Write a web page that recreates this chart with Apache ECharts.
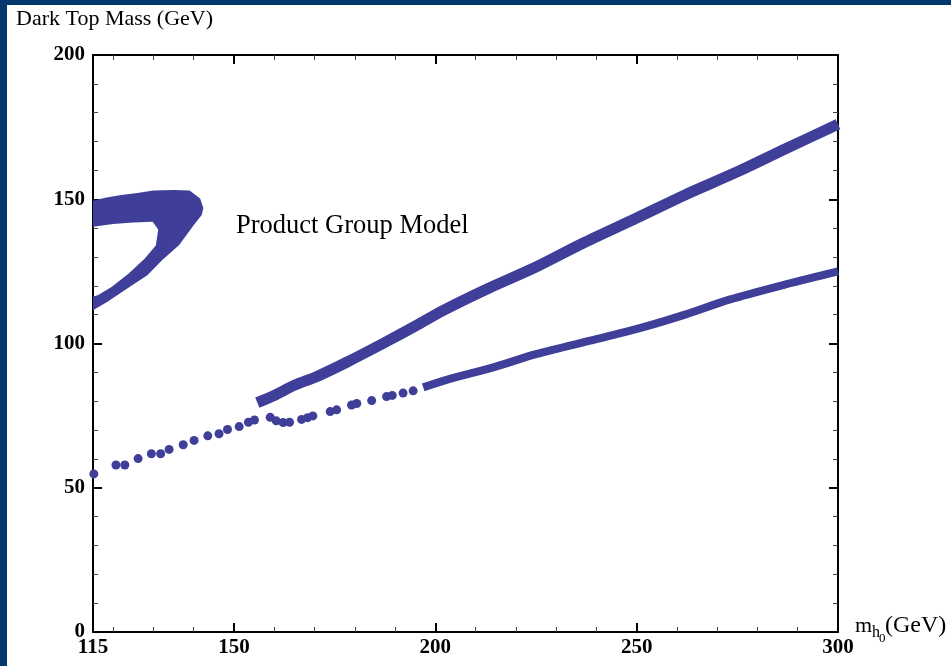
<!DOCTYPE html>
<html>
<head>
<meta charset="utf-8">
<title>Dark Top Mass</title>
<script src="https://cdn.jsdelivr.net/npm/echarts@6/dist/echarts.min.js"></script>
<style>
  html, body { margin: 0; padding: 0; background: #04376b; overflow: hidden; }
  .panel { position: absolute; left: 7px; top: 5px; right: 0; bottom: 0; background: #fff; }
  #chart { position: absolute; left: 0; top: 0; width: 951px; height: 666px; }
</style>
</head>
<body>
<div class="panel"></div>
<div id="chart"></div>
<script>
// tick values
const xLabels = [115, 150, 200, 250, 300];
const xMajor = [150, 200, 250, 300];
const xMinor = [120, 130, 140, 160, 170, 180, 190, 210, 220, 230, 240, 260, 270, 280, 290];

// upper branch (solid band)
const upperX = [155.8, 160, 165, 170.5, 178, 187, 195, 202, 213, 225, 237, 250, 262, 275, 287, 300];
const upperY = [79.5, 82, 85.5, 88.5, 93.5, 100, 106, 111.5, 119, 126.5, 135, 143.5, 151.5, 159.5, 167.5, 176];

// lower branch, continuous part
const lowerX = [197, 203, 215, 225, 240, 251, 262, 273, 287, 300];
const lowerY = [84.8, 87.5, 92, 96.3, 101.5, 105.4, 110, 115.2, 120.5, 125];

// lower branch, dotted part
const dotX = [115.2, 120.7, 122.9, 126.2, 129.5, 131.8, 133.9, 137.4, 140.1, 143.5, 146.3, 148.4, 151.3, 153.6, 155.1,
  159.0, 160.5, 162.2, 163.8, 166.8, 168.3, 169.6, 173.9, 175.5, 179.2, 180.5, 184.2, 187.9, 189.3, 192, 194.5];
const dotY = [54.8, 57.9, 57.9, 60.1, 61.8, 61.8, 63.3, 64.9, 66.4, 68.0, 68.7, 70.2, 71.2, 72.7, 73.5,
  74.4, 73.2, 72.6, 72.7, 73.7, 74.3, 74.9, 76.4, 77.0, 78.7, 79.2, 80.2, 81.6, 82.0, 82.8, 83.6];

// region near the left edge (outline)
const blobX = [115, 118, 122, 126, 130, 135, 139, 141.6, 142.4, 142, 140, 136.4, 132.2, 128.5, 123.5, 118.6, 115,
  115, 116.3, 119.6, 123.8, 127.8, 130.6, 131.2, 129.8, 125, 120, 115];
const blobY = [149.5, 150.5, 151.5, 152.2, 153, 153.2, 153, 150.3, 147, 144.5, 141, 134.1, 128.9, 123.7, 119.1, 114.5, 111.5,
  116.2, 116.8, 119.6, 124.2, 129.4, 134, 139.5, 142.2, 141.9, 141.4, 140.5];

const bandColor = '#3f3f99';
const serif = '"Liberation Serif", "Times New Roman", serif';

const chart = echarts.init(document.getElementById('chart'));

const majorTick = (vals) => ({
  show: true, inside: true, length: 9, customValues: vals,
  lineStyle: { color: '#000', width: 2 }
});
const minorTick = (vals) => ({
  show: true, inside: true, length: 5, customValues: vals,
  lineStyle: { color: '#444', width: 1 }
});
const frameLine = { show: true, onZero: false, lineStyle: { color: '#000', width: 2 } };
const tickFont = { fontFamily: serif, fontSize: 21, fontWeight: 'bold', color: '#000' };

const xBase = { type: 'value', min: 115, max: 300, splitLine: { show: false } };

const option = {
  animation: false,
  title: {
    text: 'Dark Top Mass (GeV)',
    left: 11, top: 3,
    textStyle: { fontFamily: serif, fontSize: 22, fontWeight: 'normal', color: '#000' }
  },
  grid: { left: 93, right: 113, top: 55, bottom: 34 },
  xAxis: [
    Object.assign({}, xBase, {
      position: 'bottom', axisLine: frameLine, axisTick: majorTick(xMajor),
      axisLabel: Object.assign({ customValues: xLabels, margin: 5 }, tickFont)
    }),
    Object.assign({}, xBase, {
      position: 'bottom', axisLine: { show: false, onZero: false }, axisTick: minorTick(xMinor),
      axisLabel: { show: false }
    }),
    Object.assign({}, xBase, {
      position: 'top', axisLine: frameLine, axisTick: majorTick(xMajor),
      axisLabel: { show: false }
    }),
    Object.assign({}, xBase, {
      position: 'top', axisLine: { show: false, onZero: false }, axisTick: minorTick(xMinor),
      axisLabel: { show: false }
    })
  ],
  yAxis: [
    {
      type: 'value', position: 'left', min: 0, max: 200, interval: 50,
      axisLine: frameLine,
      axisTick: { show: true, inside: true, length: 9, lineStyle: { color: '#000', width: 2 } },
      minorTick: { show: true, splitNumber: 5, length: 5, lineStyle: { color: '#444', width: 1 } },
      axisLabel: Object.assign({ margin: 8 }, tickFont),
      splitLine: { show: false }
    },
    {
      type: 'value', position: 'right', min: 0, max: 200, interval: 50,
      axisLine: frameLine,
      axisTick: { show: true, inside: true, length: 9, lineStyle: { color: '#000', width: 2 } },
      minorTick: { show: true, splitNumber: 5, length: 5, lineStyle: { color: '#444', width: 1 } },
      axisLabel: { show: false },
      splitLine: { show: false }
    }
  ],
  graphic: [
    { type: 'text', left: 236, top: 213, style: { text: 'Product Group Model', font: '26.5px ' + serif, fill: '#000' } },
    { type: 'text', x: 855, y: 637, style: { text: 'm', font: '22px ' + serif, fill: '#000', verticalAlign: 'bottom' } },
    { type: 'text', x: 872, y: 641, style: { text: 'h', font: '16px ' + serif, fill: '#000', verticalAlign: 'bottom' } },
    { type: 'text', x: 879, y: 645, style: { text: '0', font: '13px ' + serif, fill: '#000', verticalAlign: 'bottom' } },
    { type: 'text', x: 885, y: 638, style: { text: '(GeV)', font: '24px ' + serif, fill: '#000', verticalAlign: 'bottom' } }
  ],
  series: [
    {
      type: 'custom',
      clip: true,
      data: [[blobX[0], blobY[0]]],
      renderItem: function (params, api) {
        const pts = blobX.map((x, i) => api.coord([x, blobY[i]]));
        return { type: 'polygon', shape: { points: pts }, style: { fill: bandColor } };
      }
    },
    {
      type: 'line',
      data: upperX.map((x, i) => [x, upperY[i]]),
      showSymbol: false, smooth: 0.3, clip: true,
      lineStyle: { color: bandColor, width: 11, cap: 'butt' }
    },
    {
      type: 'line',
      data: lowerX.map((x, i) => [x, lowerY[i]]),
      showSymbol: false, smooth: 0.3, clip: true,
      lineStyle: { color: bandColor, width: 8, cap: 'butt' }
    },
    {
      type: 'scatter',
      data: dotX.map((x, i) => [x, dotY[i]]),
      symbolSize: 9,
      itemStyle: { color: bandColor, opacity: 1 }
    }
  ]
};

chart.setOption(option);
window.addEventListener('resize', function () {
  chart.resize();
});
</script>
</body>
</html>
